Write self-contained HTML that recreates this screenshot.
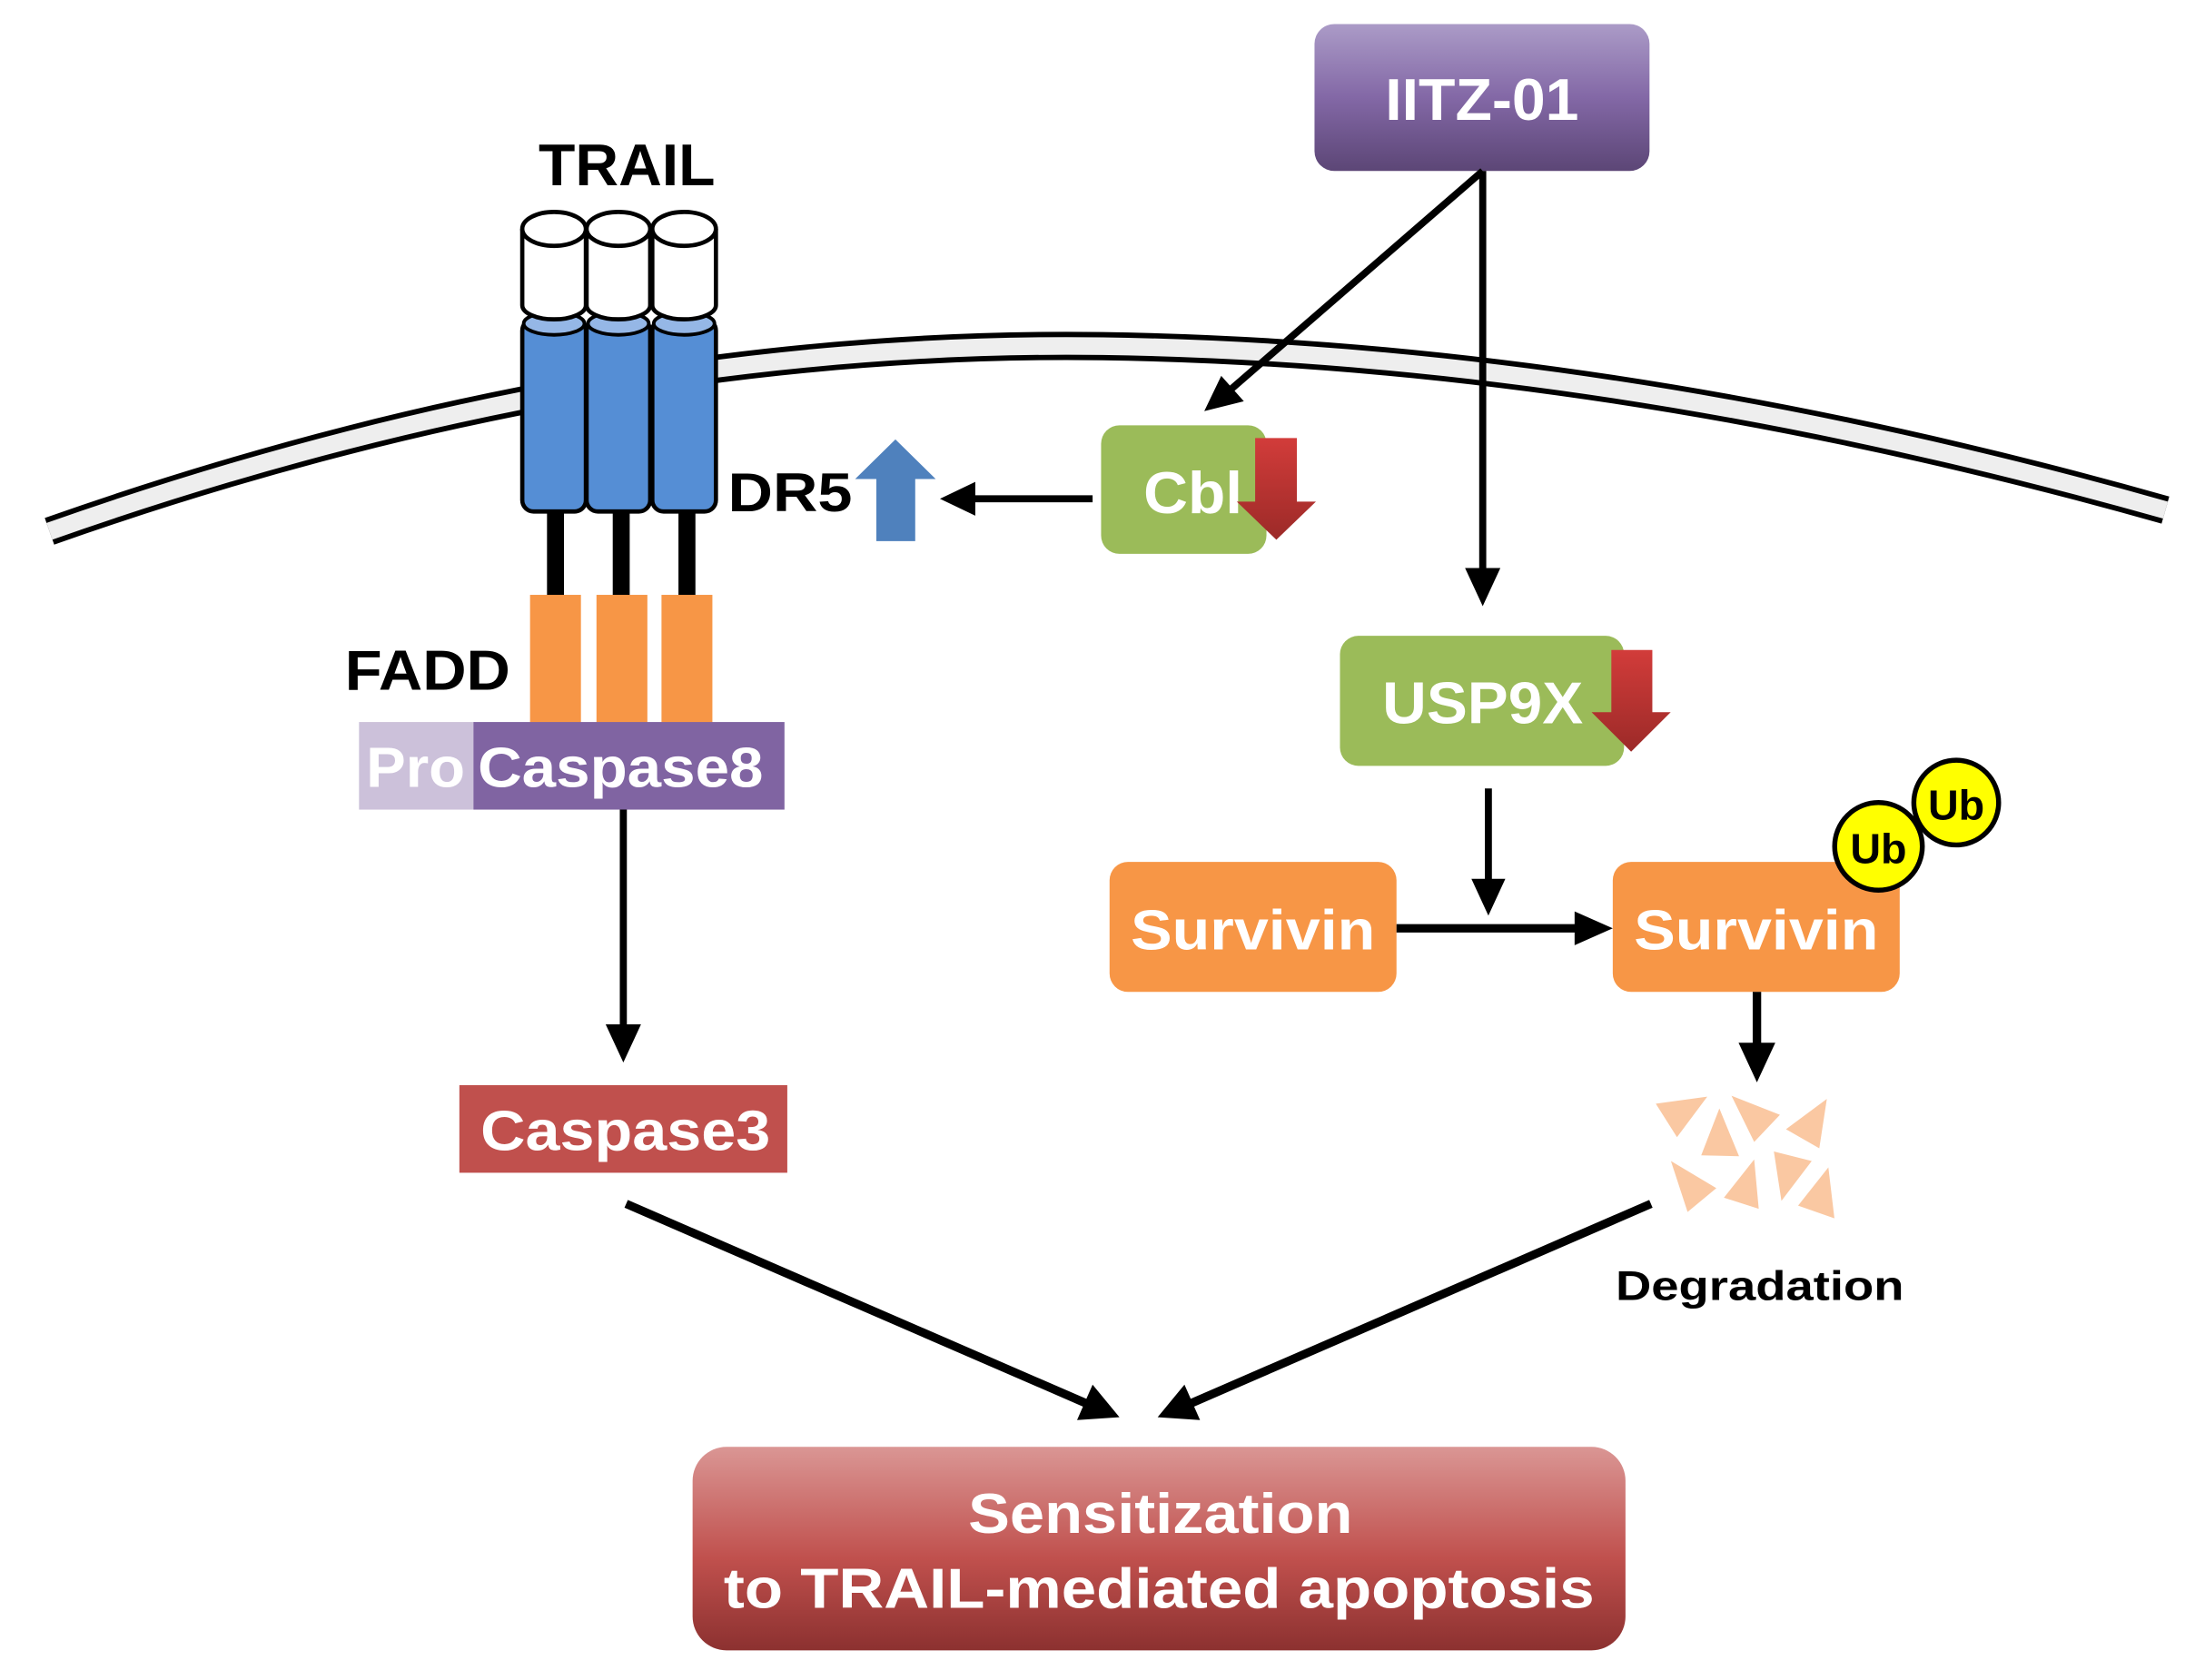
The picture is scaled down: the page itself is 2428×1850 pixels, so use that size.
<!DOCTYPE html>
<html><head><meta charset="utf-8"><style>
html,body{margin:0;padding:0;background:#fff;width:2428px;height:1850px;overflow:hidden}
svg{display:block}
text{font-family:"Liberation Sans",Arial,sans-serif;font-weight:bold}
</style></head><body>
<svg width="2428" height="1850" viewBox="0 0 1560 1189" preserveAspectRatio="none" xmlns="http://www.w3.org/2000/svg">
<defs>
<linearGradient id="gp" x1="0" y1="0" x2="0" y2="1"><stop offset="0" stop-color="#ab9bc7"/><stop offset="0.5" stop-color="#8368a6"/><stop offset="1" stop-color="#5c4676"/></linearGradient>
<linearGradient id="gr" x1="0" y1="0" x2="0" y2="1"><stop offset="0" stop-color="#da9694"/><stop offset="0.55" stop-color="#c0504d"/><stop offset="1" stop-color="#8c3130"/></linearGradient>
<linearGradient id="ga" x1="0" y1="0" x2="0" y2="1"><stop offset="0" stop-color="#d23c3a"/><stop offset="1" stop-color="#9c2a28"/></linearGradient>
</defs>
<!-- membrane -->
<path d="M35,376 Q420,240 780,245 T1532,361" fill="none" stroke="#000" stroke-width="20"/>
<path d="M35,376 Q420,240 780,245 T1532,361" fill="none" stroke="#eeeeee" stroke-width="12.5"/>
<!-- receptor -->
<g stroke="#000" stroke-width="3">
<g id="c1">
<rect x="369.5" y="226" width="45" height="136" rx="8" fill="#558ed5"/>
<ellipse cx="392" cy="229" rx="21.5" ry="8" fill="#95b7e6" stroke-width="2.5"/>
<path d="M369.5,162 V216 A22.5 10 0 0 0 414.5,216 V162" fill="#fff"/>
<ellipse cx="392" cy="162" rx="22.5" ry="12" fill="#fff"/>
</g>
<g transform="translate(45.5,0)">
<rect x="369.5" y="226" width="45" height="136" rx="8" fill="#558ed5"/>
<ellipse cx="392" cy="229" rx="21.5" ry="8" fill="#95b7e6" stroke-width="2.5"/>
<path d="M369.5,162 V216 A22.5 10 0 0 0 414.5,216 V162" fill="#fff"/>
<ellipse cx="392" cy="162" rx="22.5" ry="12" fill="#fff"/>
</g>
<g transform="translate(92,0)">
<rect x="369.5" y="226" width="45" height="136" rx="8" fill="#558ed5"/>
<ellipse cx="392" cy="229" rx="21.5" ry="8" fill="#95b7e6" stroke-width="2.5"/>
<path d="M369.5,162 V216 A22.5 10 0 0 0 414.5,216 V162" fill="#fff"/>
<ellipse cx="392" cy="162" rx="22.5" ry="12" fill="#fff"/>
</g>
</g>
<g stroke="#000" stroke-width="12">
<line x1="393" y1="362" x2="393" y2="423"/><line x1="439.5" y1="362" x2="439.5" y2="423"/><line x1="486" y1="362" x2="486" y2="423"/>
</g>
<g fill="#f79646">
<rect x="375" y="421" width="36" height="91"/><rect x="422" y="421" width="36" height="91"/><rect x="468" y="421" width="36" height="91"/>
</g>
<rect x="254" y="511" width="82" height="62" fill="#ccc1da"/>
<rect x="335" y="511" width="220" height="62" fill="#8064a2"/>
<text x="259" y="557" font-size="40" fill="#fff" textLength="70" lengthAdjust="spacingAndGlyphs">Pro</text>
<text x="338" y="557" font-size="40" fill="#fff" textLength="202" lengthAdjust="spacingAndGlyphs">Caspase8</text>
<text x="381" y="131" font-size="42" fill="#000" textLength="125" lengthAdjust="spacingAndGlyphs">TRAIL</text>
<text x="244" y="488" font-size="40" fill="#000" textLength="117" lengthAdjust="spacingAndGlyphs">FADD</text>
<text x="515" y="362" font-size="39" fill="#000" textLength="88" lengthAdjust="spacingAndGlyphs">DR5</text>
<!-- blue up arrow -->
<path d="M620,383 V339 H605 L633.5,311 L662,339 H647.5 V383 Z" fill="#4f81bd"/>
<!-- Cbl -> DR5 -->
<line x1="773" y1="353" x2="685" y2="353" stroke="#000" stroke-width="5"/>
<path d="M665,353 L690,341 L690,365 Z" fill="#000"/>
<!-- IITZ -->
<rect x="930" y="17" width="237" height="104" rx="14" fill="url(#gp)"/>
<text x="1048.5" y="85" font-size="42" fill="#fff" text-anchor="middle" textLength="137" lengthAdjust="spacingAndGlyphs">IITZ-01</text>
<line x1="1049" y1="121" x2="868" y2="278" stroke="#000" stroke-width="5"/>
<path d="M852,291 L864,266 L880,284 Z" fill="#000"/>
<line x1="1049" y1="121" x2="1049" y2="405" stroke="#000" stroke-width="5"/>
<path d="M1049,429 L1036.5,402 L1061.5,402 Z" fill="#000"/>
<!-- Cbl -->
<rect x="779" y="301" width="117" height="91" rx="13" fill="#9bbb59"/>
<text x="809" y="363" font-size="42" fill="#fff" textLength="70" lengthAdjust="spacingAndGlyphs">Cbl</text>
<path d="M888,310 H917.5 V355 H931 L903,382 L875,355 H888 Z" fill="url(#ga)"/>
<!-- USP9X -->
<rect x="948" y="450" width="201" height="92" rx="13" fill="#9bbb59"/>
<text x="978" y="512" font-size="42" fill="#fff" textLength="142" lengthAdjust="spacingAndGlyphs">USP9X</text>
<path d="M1140,460 H1169 V504 H1182 L1154,532 L1126,504 H1140 Z" fill="url(#ga)"/>
<line x1="1053" y1="558" x2="1053" y2="625" stroke="#000" stroke-width="5"/>
<path d="M1053,648 L1041,622 L1065,622 Z" fill="#000"/>
<!-- Survivins -->
<rect x="785" y="610" width="203" height="92" rx="13" fill="#f79646"/>
<text x="800" y="672" font-size="40" fill="#fff" textLength="173" lengthAdjust="spacingAndGlyphs">Survivin</text>
<rect x="1141" y="610" width="203" height="92" rx="13" fill="#f79646"/>
<text x="1156" y="672" font-size="40" fill="#fff" textLength="173" lengthAdjust="spacingAndGlyphs">Survivin</text>
<line x1="988" y1="657" x2="1118" y2="657" stroke="#000" stroke-width="6"/>
<path d="M1141,657 L1114,645 L1114,669 Z" fill="#000"/>
<!-- Ub -->
<circle cx="1384" cy="568" r="30" fill="#ffff00" stroke="#000" stroke-width="3.5"/>
<text x="1384" y="580" font-size="30" fill="#000" text-anchor="middle">Ub</text>
<circle cx="1329" cy="599" r="31" fill="#ffff00" stroke="#000" stroke-width="3.5"/>
<text x="1329" y="611" font-size="30" fill="#000" text-anchor="middle">Ub</text>
<!-- degradation -->
<line x1="1243" y1="702" x2="1243" y2="742" stroke="#000" stroke-width="6"/>
<path d="M1243,766 L1230,738 L1256,738 Z" fill="#000"/>
<g transform="translate(1143.6,533.2) scale(0.2142,0.2254)" fill="#fac8a2">
<path d="M130,1100 L300,1078 L200,1205Z"/><path d="M340,1115 L405,1265 L280,1262Z"/>
<path d="M380,1075 L540,1135 L455,1220Z"/><path d="M695,1085 L670,1240 L560,1180Z"/>
<path d="M180,1280 L330,1365 L235,1440Z"/><path d="M455,1275 L470,1430 L355,1395Z"/>
<path d="M520,1250 L645,1280 L545,1405Z"/><path d="M700,1300 L720,1460 L600,1420Z"/>
</g>
<text x="1143" y="920" font-size="29" fill="#000" textLength="204" lengthAdjust="spacingAndGlyphs">Degradation</text>
<!-- Caspase3 -->
<line x1="441" y1="573" x2="441" y2="728" stroke="#000" stroke-width="5"/>
<path d="M441,752 L428.5,725 L453.5,725 Z" fill="#000"/>
<rect x="325" y="768" width="232" height="62" fill="#c0504d"/>
<text x="340" y="814" font-size="40" fill="#fff" textLength="205" lengthAdjust="spacingAndGlyphs">Caspase3</text>
<!-- diagonals -->
<line x1="443" y1="852" x2="768" y2="993" stroke="#000" stroke-width="6"/>
<path d="M792,1003 L762,1005 L773,980 Z" fill="#000"/>
<line x1="1168" y1="852" x2="843" y2="993" stroke="#000" stroke-width="6"/>
<path d="M819,1003 L838,980 L849,1005 Z" fill="#000"/>
<!-- bottom -->
<rect x="490" y="1024" width="660" height="144" rx="24" fill="url(#gr)"/>
<text x="821" y="1085" font-size="40" fill="#fff" text-anchor="middle" textLength="272" lengthAdjust="spacingAndGlyphs">Sensitization</text>
<text x="820" y="1138" font-size="40" fill="#fff" text-anchor="middle" textLength="616" lengthAdjust="spacingAndGlyphs">to TRAIL-mediated apoptosis</text>
</svg>
</body></html>
